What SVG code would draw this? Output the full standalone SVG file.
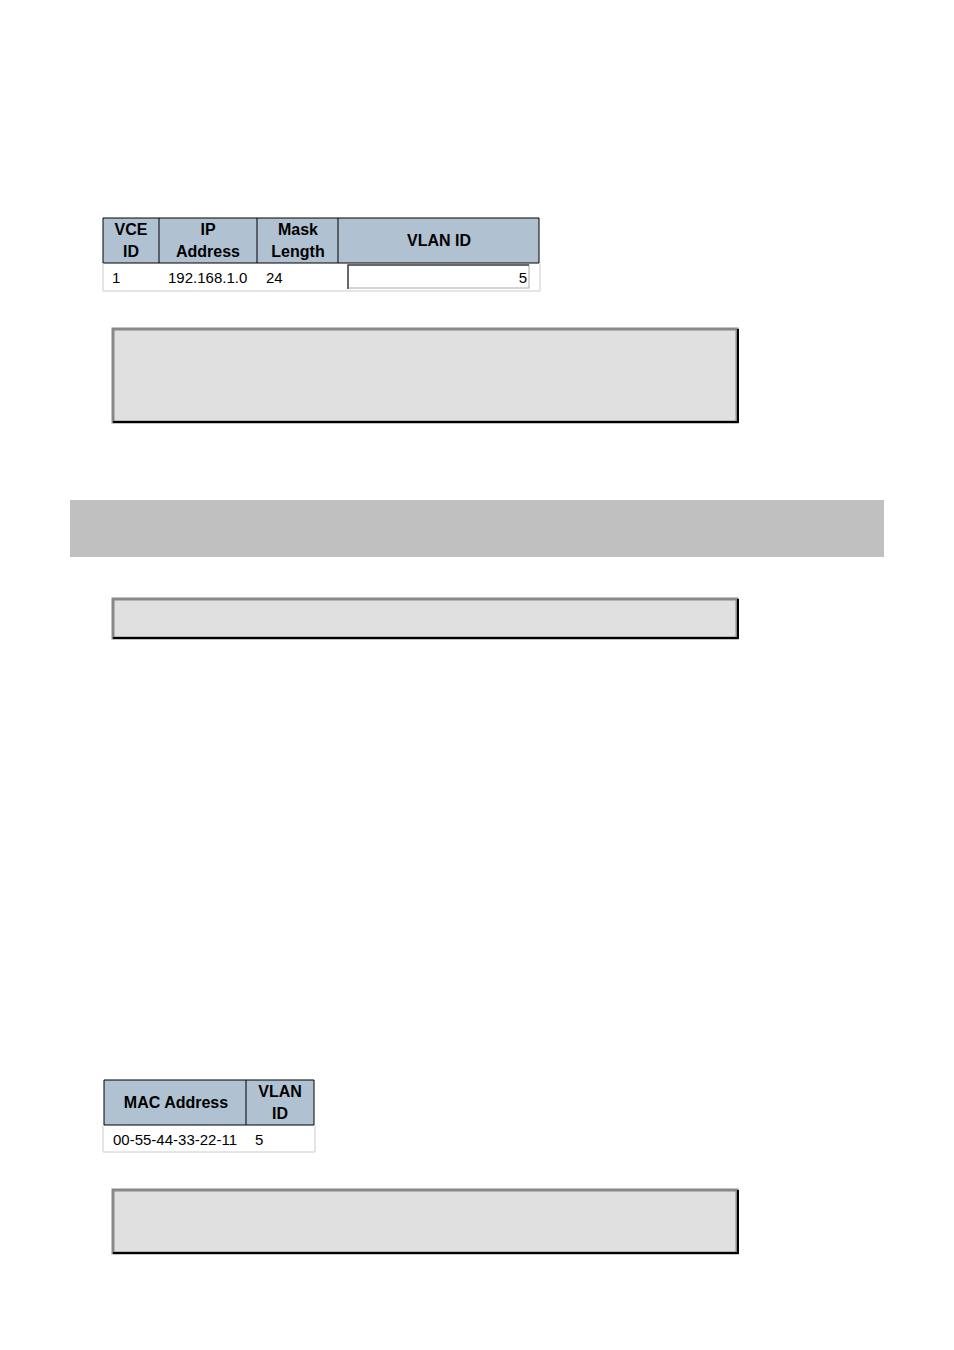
<svg xmlns="http://www.w3.org/2000/svg" width="954" height="1350" viewBox="0 0 954 1350">
<style>
.h{fill:#b0c2d2}
.t{font-family:"Liberation Sans",Arial,sans-serif;font-size:15px;fill:#000}
.b{font-weight:bold;font-size:16px;text-anchor:middle}
.ln{stroke:#000;stroke-width:1;fill:none}
.g{fill:#c0c0c0;stroke:none}
.box{fill:#e0e0e0}
</style>
<rect width="954" height="1350" fill="#fff"/>
<g id="table1">
<rect class="h" x="103" y="218" width="436" height="45"/>
<path class="ln" d="M103 218H539V263M103 218V263H539M159 218V263M257 218V263M338 218V263"/>
<path d="M103 291H540M540 263V291M103 263V291" stroke="#ccc" fill="none"/>
<text class="t b" x="131" y="235">VCE</text><text class="t b" x="131" y="257">ID</text>
<text class="t b" x="208" y="235">IP</text><text class="t b" x="208" y="257">Address</text>
<text class="t b" x="298" y="235">Mask</text><text class="t b" x="298" y="257">Length</text>
<text class="t b" x="439" y="246">VLAN ID</text>
<text class="t" x="112" y="283">1</text>
<text class="t" x="168" y="283">192.168.1.0</text>
<text class="t" x="266" y="283">24</text>
<rect x="348" y="265" width="181" height="23" fill="#fff" stroke="#aaa"/>
<path d="M348 289V265H529" stroke="#444" stroke-width="1.5" fill="none"/>
<text class="t" x="527" y="283" text-anchor="end">5</text>
</g>
<g id="box1">
<rect x="113" y="329" width="624" height="93" class="box" stroke="#888" stroke-width="3"/>
<path d="M113 422H739M738 329V423" stroke="#000" stroke-width="2" fill="none"/>
</g>
<g id="bar"><rect class="g" x="70" y="500" width="814" height="57"/></g>
<g id="box2">
<rect x="113" y="599" width="624" height="39" class="box" stroke="#888" stroke-width="3"/>
<path d="M113 638H739M738 599V639" stroke="#000" stroke-width="2" fill="none"/>
</g>
<g id="table2">
<rect class="h" x="104" y="1080" width="210" height="45"/>
<path class="ln" d="M104 1080H314V1125H104ZM246 1080V1125"/>
<path d="M103 1152H315M315 1125V1152M103 1125V1152" stroke="#ccc" fill="none"/>
<text class="t b" x="176" y="1108">MAC Address</text>
<text class="t b" x="280" y="1097">VLAN</text><text class="t b" x="280" y="1119">ID</text>
<text class="t" x="113" y="1145">00-55-44-33-22-11</text>
<text class="t" x="255" y="1145">5</text>
</g>
<g id="box3">
<rect x="113" y="1190" width="624" height="63" class="box" stroke="#888" stroke-width="3"/>
<path d="M113 1253H739M738 1190V1254" stroke="#000" stroke-width="2" fill="none"/>
</g>
<g id="connectors"/>
</svg>
